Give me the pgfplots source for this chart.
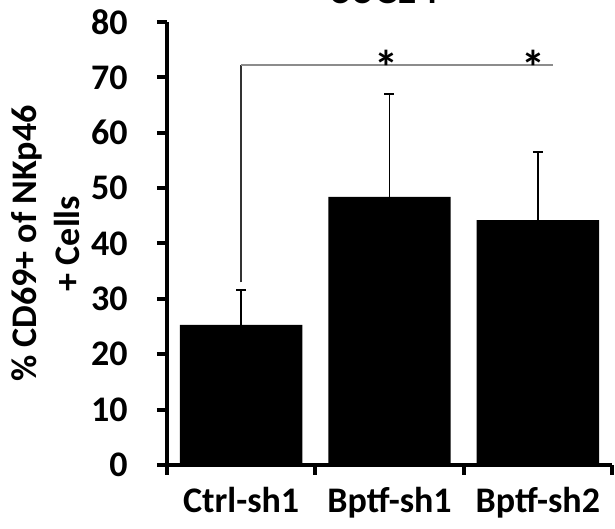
\documentclass[border=0pt]{standalone}
\usepackage{fontspec}
\setmainfont{Carlito}
\usepackage{pgfplots}
\usepackage{pgfplotstable}
\pgfplotsset{compat=1.18}
\pgfplotstableread{
x   y     e
0.5 25.3  6.3
1.5 48.4  18.6
2.5 44.2  12.3
}\bardata
\begin{document}
\begin{tikzpicture}
\useasboundingbox (-83.5pt,-32pt) rectangle (224pt,232.5pt);
\begin{axis}[
  at={(0,0)}, anchor=south west,
  scale only axis, width=222.5pt, height=221.5pt,
  xmin=0, xmax=3, ymin=0, ymax=80,
  axis x line*=bottom, axis y line*=left,
  axis line style={line width=2pt, black, -},
  tick align=outside,
  major tick length=5pt, minor tick length=5pt,
  ytick={0,10,...,80},
  y tick style={line width=2pt, black},
  xtick={0.5,1.5,2.5},
  xticklabels={Ctrl-sh1,Bptf-sh1,Bptf-sh2},
  major x tick style={draw=none},
  minor xtick={0,1,2,3},
  minor x tick style={line width=2pt, black},
  tick label style={font=\bfseries\fontsize{18}{21}\selectfont},
  /pgf/number format/assume math mode=true,
  yticklabel style={inner sep=0pt, xshift=-14.5pt},
  xticklabel style={anchor=base, inner sep=0pt, yshift=-19pt},
  ylabel={\% CD69+ of NKp46\\+ Cells},
  every axis y label/.style={at={(axis description cs:-0.1955,0.5)}, rotate=90, anchor=south, inner sep=0pt, align=center, font=\bfseries\fontsize{18}{21.5}\selectfont},
  clip=false,
]
\addplot[ybar, bar width=0.825, bar shift=0pt, fill=black, draw=none,
  error bars/.cd, y dir=plus, y explicit,
  error bar style={line width=0.75pt, black},
  error mark options={rotate=90, line width=0.75pt, black, mark size=2.5pt}]
  table[x=x, y=y, y error=e] {\bardata};
\draw[black!80, line width=0.75pt] (axis cs:0.5,33) -- (axis cs:0.5,72.2);
\draw[black!45, line width=1.1pt] (axis cs:0.5,72.2) -- (axis cs:2.6,72.2);
\node[font=\bfseries\fontsize{24}{26}\selectfont, anchor=base, inner sep=0pt] at (axis cs:1.48,68.8) {*};
\node[font=\bfseries\fontsize{24}{26}\selectfont, anchor=base, inner sep=0pt] at (axis cs:2.47,68.8) {*};
\end{axis}
\node[font=\bfseries\fontsize{22}{26}\selectfont, anchor=base] at (108.5pt,230.5pt) {66CL4};
\end{tikzpicture}
\end{document}
